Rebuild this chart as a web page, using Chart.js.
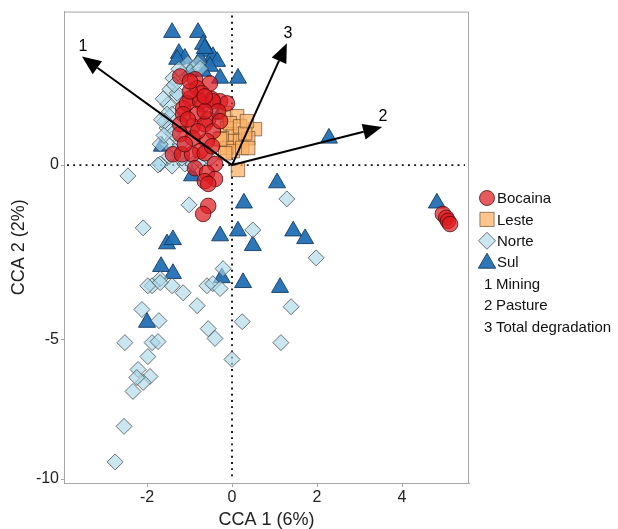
<!DOCTYPE html>
<html>
<head>
<meta charset="utf-8">
<script src="https://cdn.jsdelivr.net/npm/chart.js@4.4.1/dist/chart.umd.min.js"></script>
<style>
  html, body { margin: 0; padding: 0; background: #fff; }
  #wrap { width: 618px; height: 529px; }
</style>
</head>
<body>
<div id="wrap"><canvas id="ccaChart" width="618" height="529"></canvas></div>
<script>
// Группы (регионы) и их оценки по осям CCA
const groups = ['Bocaina', 'Leste', 'Norte', 'Sul'];

const bocainaX = [-1.22, -0.87, -0.52, -0.82, -0.71, -0.99, -0.47, -0.28, -0.12, -0.68, -1.15, -1.06, -0.75, -0.45,
  -1.15, -0.82, -0.56, -0.33, -1.22, -0.92, -0.64, -0.45, -1.22, -0.92, -0.59, -0.75, -1.39, -1.18, -0.94, -0.64,
  -0.40, -0.87, -0.59, -0.40, -0.64, -0.56, -0.56, -0.68, -0.99, -0.64, -1.04, -0.28, -0.80, -1.11, -0.47, -0.99,
  -0.64, 4.96, 5.04, 5.08, 5.13];
const bocainaY = [2.54, 2.46, 2.34, 2.20, 2.06, 1.91, 1.89, 1.83, 1.77, 1.74, 1.63, 1.77, 1.83, 1.83,
  1.46, 1.46, 1.31, 1.54, 1.17, 1.11, 1.17, 0.97, 0.89, 0.77, 0.69, 0.40, 0.31, 0.31, 0.31, 0.34,
  0.03, -0.09, -0.23, -0.40, -0.46, -0.54, -1.17, -1.40, 2.11, 1.54, 1.31, 1.26, 0.97, 0.60, 0.54, 2.40,
  1.97, -1.40, -1.51, -1.60, -1.69];

const lesteX = [-0.16, 0.12, 0.54, -0.12, 0.02, -0.05, 0.19, 0.38, -0.24, -0.12, 0.02, 0.24, -0.16, 0.14,
  -0.05, 0.19, 0.31, -0.28, 0.38, 0.35];
const lesteY = [1.49, 1.40, 1.03, 1.06, 0.89, 0.69, 0.69, 0.77, 0.77, 0.49, 0.40, 0.49, 0.34, -0.14,
  1.20, 1.11, 0.91, 0.74, 0.49, 1.26];

const norteX = [-1.04, -0.92, -1.18, -1.39, -1.46, -1.29, -1.51, -1.41, -1.53, -1.39, -1.51, -1.69, -1.41, -1.11,
  -0.92, -2.45, -1.01, -2.09, 0.49, 1.29, 1.98, -0.80, -0.75, -1.29, -1.53, -1.22, -1.74, -0.21, -1.69, -1.88,
  -1.41, -0.59, -0.45, -0.28, -1.15, -1.98, -1.69, -0.82, -2.12, -1.72, -0.56, -0.40, 0.24, 1.39, 1.15, -2.52,
  -1.88, -1.74, -1.98, -2.21, -1.93, -2.09, -2.33, -2.24, 0.00, -2.54, -2.75, -1.58, -1.34, -0.75, -0.52, -1.69,
  -1.18, -1.62, -1.66, -1.60, -1.36, -1.25, -1.48];
const norteY = [2.91, 2.74, 2.63, 2.49, 2.17, 1.97, 1.74, 1.46, 1.06, 0.91, 0.60, 0.03, -0.03, 0.03,
  0.03, -0.31, -1.14, -1.80, -1.86, -0.97, -2.66, 2.91, 2.77, 2.06, 1.46, 0.60, 0.00, -2.97, -3.26, -3.46,
  -3.46, -3.46, -3.40, -3.54, -3.66, -3.46, -3.37, -4.03, -4.14, -4.46, -4.69, -4.97, -4.49, -4.06, -5.09, -5.09,
  -5.09, -5.06, -5.49, -5.86, -6.06, -6.23, -6.49, -6.09, -5.57, -7.49, -8.51, 1.26, 0.40, 0.11, 0.17, 0.60,
  0.20, 1.90, 1.30, 0.85, 2.30, 2.75, 0.25];

const sulX = [-1.41, -0.80, -1.25, -1.11, -0.68, -0.59, -0.45, -0.35, -0.75, -0.52, -0.28, 0.14, -1.29, -0.99,
  -0.68, -0.64, -1.65, -0.28, -0.94, 1.06, 0.28, -0.28, 0.14, 0.49, 1.44, 1.72, -1.53, -1.39, -1.67, -1.39,
  -0.24, 0.26, 1.13, -2.00, 2.28, 4.82];
const sulY = [3.80, 3.80, 3.20, 3.06, 3.46, 3.26, 3.11, 2.97, 3.03, 2.83, 2.49, 2.49, 3.03, 2.69,
  2.69, 3.34, 0.54, 1.46, -0.31, -0.51, -1.09, -2.03, -1.89, -2.31, -1.89, -2.11, -2.26, -2.14, -2.91, -3.11,
  -3.23, -3.37, -3.51, -4.51, 0.77, -1.09];

// Векторы факторов среды (биплот)
const envNumbers = ['1', '2', '3'];
const envNames = ['Mining', 'Pasture', 'Total degradation'];
const envX = [-3.53, 3.53, 1.29];
const envY = [3.11, 1.09, 3.49];

// Деления осей
const xTicks = [-2, 0, 2, 4];
const yTicks = [0, -5, -9.0];
const yTickLabels = ['0', '-5', '-10'];

const fillColors = ['rgba(222, 26, 32, 0.72)', 'rgba(253, 176, 98, 0.72)', 'rgba(168, 214, 232, 0.62)', 'rgba(34, 112, 180, 0.95)'];
const lineColors = ['rgba(70, 10, 10, 0.75)', 'rgba(110, 80, 50, 0.7)', 'rgba(60, 60, 60, 0.7)', 'rgba(20, 60, 100, 0.9)'];
const shapes = ['circle', 'rect', 'rectRot', 'triangle'];
const radii = [7.8, 9.5, 8, 9.8];

function toPoints(xs, ys) {
    return xs.map((x, i) => ({ x: x, y: ys[i] }));
}

const seriesX = [bocainaX, lesteX, norteX, sulX];
const seriesY = [bocainaY, lesteY, norteY, sulY];

const datasets = groups.map((name, i) => ({
    label: name,
    data: toPoints(seriesX[i], seriesY[i]),
    pointStyle: shapes[i],
    pointRadius: radii[i],
    pointHoverRadius: radii[i],
    backgroundColor: fillColors[i],
    borderColor: lineColors[i],
    borderWidth: 1,
}));

const FONT = '"Liberation Sans", Arial, sans-serif';

// Рамка панели, нулевые линии, стрелки и легенда
const extrasPlugin = {
    id: 'extras',
    beforeDatasetsDraw(chart) {
        const { ctx, chartArea: a, scales: { x, y } } = chart;
        ctx.save();
        ctx.strokeStyle = '#a6a6a6';
        ctx.lineWidth = 1;
        ctx.strokeRect(a.left + 0.5, a.top + 0.5, a.right - a.left - 1, a.bottom - a.top);
        // пунктир по нулям
        ctx.strokeStyle = '#111';
        ctx.lineWidth = 1.9;
        ctx.setLineDash([1.9, 4.3]);
        const x0 = x.getPixelForValue(0);
        const y0 = y.getPixelForValue(0);
        ctx.beginPath();
        ctx.moveTo(a.left + 3, y0);
        ctx.lineTo(a.right - 4, y0);
        ctx.moveTo(x0, a.top + 4);
        ctx.lineTo(x0, a.bottom - 3);
        ctx.stroke();
        ctx.restore();
    },
    afterDatasetsDraw(chart) {
        const { ctx, scales: { x, y } } = chart;
        const ox = x.getPixelForValue(0);
        const oy = y.getPixelForValue(0);
        ctx.save();
        envX.forEach((vx, i) => {
            const tx = x.getPixelForValue(vx);
            const ty = y.getPixelForValue(envY[i]);
            const ang = Math.atan2(ty - oy, tx - ox);
            const headLen = 19, headW = 8;
            const bx = tx - headLen * Math.cos(ang);
            const by = ty - headLen * Math.sin(ang);
            ctx.strokeStyle = '#000';
            ctx.lineWidth = 2;
            ctx.beginPath();
            ctx.moveTo(ox, oy);
            ctx.lineTo(bx, by);
            ctx.stroke();
            ctx.fillStyle = '#000';
            ctx.beginPath();
            ctx.moveTo(tx, ty);
            ctx.lineTo(bx + headW * Math.sin(ang), by - headW * Math.cos(ang));
            ctx.lineTo(bx - headW * Math.sin(ang), by + headW * Math.cos(ang));
            ctx.closePath();
            ctx.fill();
            ctx.font = '16px ' + FONT;
            ctx.textAlign = 'center';
            ctx.textBaseline = 'bottom';
            ctx.fillText(envNumbers[i], tx + 1, ty - 2);
        });
        ctx.restore();
    },
    afterDraw(chart) {
        const { ctx } = chart;
        const lx = 487, ly0 = 198, step = 21.4;
        ctx.save();
        ctx.font = '15px ' + FONT;
        ctx.textBaseline = 'middle';
        ctx.textAlign = 'left';
        groups.forEach((name, i) => {
            const cy = ly0 + i * step;
            const r = [7.5, 10, 8.5, 10][i];
            ctx.fillStyle = fillColors[i];
            ctx.strokeStyle = lineColors[i];
            ctx.lineWidth = 1;
            Chart.helpers.drawPoint(ctx, { pointStyle: shapes[i], radius: r, borderWidth: 1, rotation: 0 }, lx, cy + (i === 3 ? 1 : 0));
            ctx.fillStyle = '#111';
            ctx.fillText(name, 497, cy + 1);
        });
        envNames.forEach((name, i) => {
            const cy = ly0 + (groups.length + i) * step;
            ctx.fillStyle = '#111';
            ctx.fillText(envNumbers[i], 484, cy + 1);
            ctx.fillText(name, 496, cy + 1);
        });
        ctx.restore();
    }
};

new Chart(document.getElementById('ccaChart'), {
    type: 'scatter',
    data: { datasets: datasets },
    options: {
        responsive: false,
        animation: false,
        layout: { padding: { top: 10, right: 149, left: 0, bottom: 0 } },
        plugins: {
            legend: { display: false },
            tooltip: { enabled: false },
        },
        scales: {
            x: {
                type: 'linear',
                min: -3.953,
                max: 5.576,
                afterBuildTicks: (scale) => { scale.ticks = xTicks.map(v => ({ value: v })); },
                afterFit: (scale) => { scale.height = 46; },
                border: { display: true, color: '#a6a6a6', width: 1 },
                grid: { drawOnChartArea: false, tickLength: 4, color: '#a6a6a6' },
                ticks: { color: '#222', font: { family: FONT, size: 16 }, padding: 1, maxRotation: 0 },
                title: { display: true, text: 'CCA 1 (6%)', color: '#222', font: { family: FONT, size: 18 }, padding: { top: 0, bottom: -2 } },
            },
            y: {
                type: 'linear',
                min: -9.114,
                max: 4.4,
                afterBuildTicks: (scale) => { scale.ticks = yTicks.map(v => ({ value: v })); },
                afterFit: (scale) => { scale.width = 64; },
                border: { display: true, color: '#a6a6a6', width: 1 },
                grid: { drawOnChartArea: false, tickLength: 3, color: '#a6a6a6' },
                ticks: {
                    color: '#222',
                    font: { family: FONT, size: 16 },
                    padding: 2,
                    callback: (value) => yTickLabels[yTicks.indexOf(value)],
                },
                title: { display: true, text: 'CCA 2 (2%)', color: '#222', font: { family: FONT, size: 18 }, padding: { top: 8, bottom: 0 } },
            },
        },
    },
    plugins: [extrasPlugin],
});
</script>
</body>
</html>
